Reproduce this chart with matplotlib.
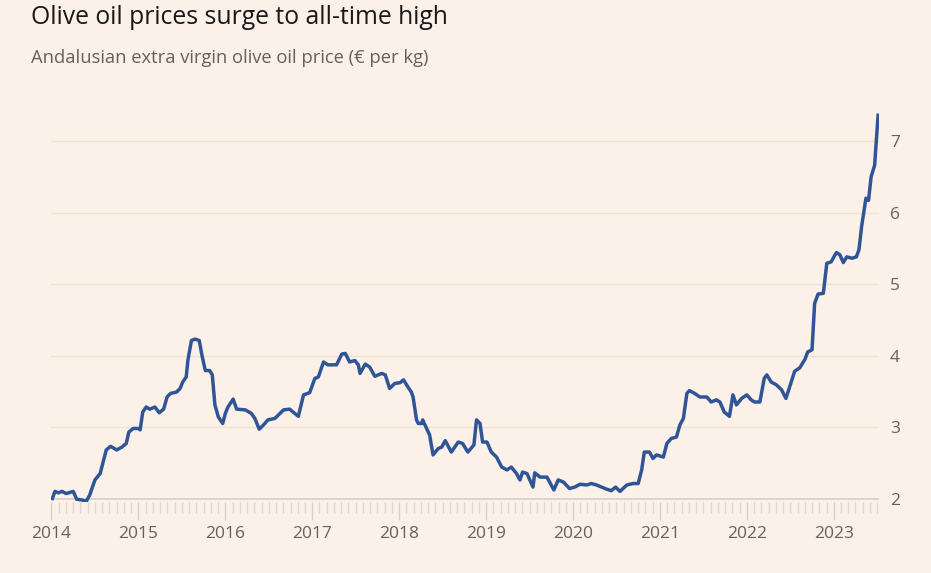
import numpy as np
import matplotlib.pyplot as plt
from matplotlib.ticker import MultipleLocator

# Andalusian extra virgin olive oil price (decimal year, € per kg)
years = [
    2014.01, 2014.04, 2014.08, 2014.12, 2014.17, 2014.25, 2014.29, 2014.35, 2014.40, 2014.44,
    2014.50, 2014.56, 2014.60, 2014.63, 2014.68, 2014.75, 2014.81, 2014.86, 2014.89, 2014.94,
    2015.00, 2015.02, 2015.05, 2015.09, 2015.13, 2015.19, 2015.24, 2015.29, 2015.33, 2015.37,
    2015.44, 2015.48, 2015.51, 2015.55, 2015.57, 2015.61, 2015.65, 2015.70, 2015.73, 2015.77,
    2015.82, 2015.85, 2015.88, 2015.92, 2015.97, 2016.00, 2016.03, 2016.09, 2016.13, 2016.23,
    2016.30, 2016.34, 2016.39, 2016.44, 2016.49, 2016.57, 2016.67, 2016.74, 2016.84, 2016.90,
    2016.97, 2017.03, 2017.07, 2017.13, 2017.18, 2017.28, 2017.34, 2017.38, 2017.43, 2017.49,
    2017.53, 2017.55, 2017.61, 2017.66, 2017.72, 2017.80, 2017.84, 2017.89, 2017.95, 2018.01,
    2018.05, 2018.09, 2018.14, 2018.16, 2018.20, 2018.22, 2018.26, 2018.27, 2018.32, 2018.35,
    2018.39, 2018.45, 2018.49, 2018.53, 2018.60, 2018.68, 2018.73, 2018.79, 2018.86, 2018.89,
    2018.93, 2018.96, 2019.01, 2019.06, 2019.12, 2019.18, 2019.24, 2019.29, 2019.35, 2019.39,
    2019.42, 2019.47, 2019.54, 2019.56, 2019.62, 2019.70, 2019.78, 2019.83, 2019.89, 2019.96,
    2020.02, 2020.08, 2020.16, 2020.21, 2020.27, 2020.33, 2020.39, 2020.44, 2020.49, 2020.54,
    2020.62, 2020.69, 2020.75, 2020.79, 2020.82, 2020.88, 2020.92, 2020.96, 2021.04, 2021.08,
    2021.13, 2021.19, 2021.23, 2021.27, 2021.31, 2021.34, 2021.40, 2021.46, 2021.54, 2021.59,
    2021.65, 2021.69, 2021.74, 2021.80, 2021.84, 2021.88, 2021.94, 2022.00, 2022.05, 2022.09,
    2022.15, 2022.20, 2022.23, 2022.28, 2022.34, 2022.40, 2022.45, 2022.49, 2022.55, 2022.61,
    2022.67, 2022.70, 2022.75, 2022.78, 2022.82, 2022.88, 2022.92, 2022.97, 2023.03, 2023.07,
    2023.11, 2023.15, 2023.21, 2023.26, 2023.29, 2023.32, 2023.37, 2023.40, 2023.43, 2023.47,
    2023.51,
]
prices = [
    2.00, 2.10, 2.08, 2.10, 2.07, 2.10, 1.99, 1.98, 1.96, 2.05,
    2.26, 2.35, 2.54, 2.68, 2.73, 2.68, 2.72, 2.77, 2.93, 2.98,
    2.98, 2.96, 3.21, 3.28, 3.25, 3.28, 3.20, 3.25, 3.42, 3.47,
    3.49, 3.54, 3.63, 3.70, 3.94, 4.21, 4.23, 4.21, 4.01, 3.79,
    3.79, 3.73, 3.31, 3.14, 3.05, 3.19, 3.28, 3.39, 3.25, 3.24,
    3.19, 3.12, 2.97, 3.03, 3.10, 3.12, 3.24, 3.25, 3.15, 3.45,
    3.48, 3.68, 3.70, 3.91, 3.87, 3.87, 4.02, 4.03, 3.91, 3.93,
    3.87, 3.75, 3.88, 3.84, 3.71, 3.75, 3.73, 3.54, 3.61, 3.62,
    3.66, 3.58, 3.49, 3.42, 3.10, 3.05, 3.05, 3.10, 2.97, 2.89,
    2.61, 2.70, 2.72, 2.81, 2.65, 2.79, 2.77, 2.65, 2.75, 3.10,
    3.05, 2.79, 2.79, 2.65, 2.58, 2.44, 2.40, 2.44, 2.35, 2.26,
    2.37, 2.35, 2.16, 2.36, 2.30, 2.30, 2.12, 2.26, 2.23, 2.14,
    2.16, 2.20, 2.19, 2.21, 2.19, 2.16, 2.13, 2.11, 2.16, 2.10,
    2.19, 2.21, 2.21, 2.40, 2.65, 2.65, 2.56, 2.61, 2.58, 2.77,
    2.84, 2.86, 3.03, 3.12, 3.47, 3.51, 3.47, 3.42, 3.42, 3.35,
    3.38, 3.35, 3.21, 3.15, 3.45, 3.31, 3.40, 3.45, 3.38, 3.35,
    3.35, 3.68, 3.73, 3.63, 3.59, 3.52, 3.40, 3.55, 3.78, 3.83,
    3.95, 4.05, 4.08, 4.73, 4.86, 4.87, 5.29, 5.31, 5.44, 5.41,
    5.30, 5.38, 5.36, 5.38, 5.48, 5.80, 6.20, 6.17, 6.50, 6.66,
    7.36,
]
year_ticks = list(range(2014, 2024))
price_ticks = [2, 3, 4, 5, 6, 7]

bg = '#fcf1e8'
navy = '#2f5597'
grey = '#66605c'

plt.rcParams['font.family'] = ['Open Sans', 'DejaVu Sans']

fig = plt.figure(figsize=(9.31, 5.73), dpi=100, facecolor=bg)
ax = fig.add_axes([0.0553, 0.1237, 0.8888, 0.6926], facecolor=bg)

for v in price_ticks[1:]:
    ax.axhline(v, color='#ede2d8', lw=1.0, zorder=1)
ax.axhline(price_ticks[0], color='#d9cfc6', lw=1.2, zorder=1)

ax.plot(years, prices, color=navy, lw=2.5, solid_joinstyle='round', zorder=3)

ax.set_xlim(2014, 2023.52)
ax.set_ylim(1.95, 7.5)

# year ticks and monthly minor ticks under the baseline
ax.set_xticks(year_ticks)
ax.set_xticklabels([str(y) for y in year_ticks])
ax.xaxis.set_minor_locator(MultipleLocator(1 / 12))
ax.tick_params(axis='x', which='major', length=13, width=1, color='#d9cfc6',
               labelsize=12.5, labelcolor=grey, pad=4)
ax.tick_params(axis='x', which='minor', length=8, width=1, color='#e0d6cd')

ax.yaxis.tick_right()
ax.set_yticks(price_ticks)
ax.set_yticklabels([str(v) for v in price_ticks])
ax.tick_params(axis='y', length=0, labelsize=12.5, labelcolor=grey, pad=8)

for s in ax.spines.values():
    s.set_visible(False)

fig.text(31 / 931, 1 - 18 / 573, 'Olive oil prices surge to all-time high',
         fontsize=17.8, color='#1a1817', va='center', ha='left')
fig.text(31 / 931, 1 - 58 / 573, 'Andalusian extra virgin olive oil price (€ per kg)',
         fontsize=13.2, color=grey, va='center', ha='left')

fig.savefig('out.png', dpi=100, facecolor=bg)
